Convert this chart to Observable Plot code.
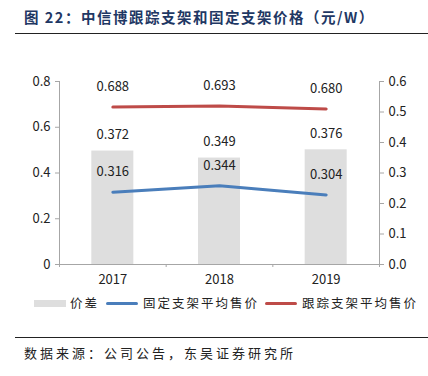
<!DOCTYPE html>
<html>
<head>
<meta charset="utf-8">
<script src="https://cdn.jsdelivr.net/npm/d3@7"></script>
<script src="https://cdn.jsdelivr.net/npm/@observablehq/plot@0.6"></script>
<style>
  body { margin: 0; background: #fff; font-family: "Noto Sans CJK SC", sans-serif; }
  #wrap { position: relative; width: 428px; height: 376px; overflow: hidden; }
  #title { position: absolute; left: 24px; top: 6px; font-size: 14.5px; font-weight: bold; color: #1f3864; white-space: nowrap; letter-spacing: 1.5px; }
  #rule1 { position: absolute; left: 15px; top: 33px; width: 413px; height: 0; border-top: 1.5px solid #222; }
  #chart { position: absolute; left: 0; top: 40px; }
  #legend { position: absolute; left: 0; top: 293px; width: 428px; height: 20px; font-size: 12.5px; color: #222; }
  .lg { position: absolute; top: 0; line-height: 20px; white-space: nowrap; letter-spacing: 2px; }
  .sw { position: absolute; }
  #rule2 { position: absolute; left: 15px; top: 337px; width: 413px; height: 0; border-top: 1.5px solid #222; }
  #source { position: absolute; left: 24px; top: 343px; font-size: 13px; color: #222; white-space: nowrap; letter-spacing: 3px; }
</style>
</head>
<body>
<div id="wrap">
  <div id="title">图 22：中信博跟踪支架和固定支架价格（元/W）</div>
  <div id="rule1"></div>
  <div id="chart"></div>
  <div id="legend"></div>
  <div id="rule2"></div>
  <div id="source">数据来源：公司公告，东吴证券研究所</div>
</div>
<script>
const years = [2017, 2018, 2019];
const priceDiff = [0.372, 0.349, 0.376];      // 价差 (right axis)
const fixedPrice = [0.316, 0.344, 0.304];     // 固定支架平均售价 (left axis)
const trackerPrice = [0.688, 0.693, 0.680];   // 跟踪支架平均售价 (left axis)
const leftTicks = [0, 0.2, 0.4, 0.6, 0.8];
const rightTicks = [0, 0.1, 0.2, 0.3, 0.4, 0.5, 0.6];
const seriesNames = ["价差", "固定支架平均售价", "跟踪支架平均售价"];
const colors = { gray: "#dedede", blue: "#4a7ebb", red: "#be4b48" };

const rightMax = 0.6, leftMax = 0.8, k = leftMax / rightMax;
const rows = years.map((y, i) => ({ year: y, diff: priceDiff[i], fixed: fixedPrice[i], tracker: trackerPrice[i] }));
const bandEdges = [2016.5, 2017.5, 2018.5, 2019.5];
const fmt3 = d => d.toFixed(3);
const font = "Noto Sans CJK SC";

const plot = Plot.plot({
  width: 428,
  height: 252,
  marginLeft: 59,
  marginRight: 49,
  marginTop: 41,
  marginBottom: 28,
  style: { fontFamily: font, fontSize: "13px", color: "#222", background: "transparent" },
  x: { domain: [2016.5, 2019.5], label: null },
  y: { domain: [0, leftMax], label: null },
  marks: [
    Plot.rectY(rows, { x1: d => d.year - 0.197, x2: d => d.year + 0.197, y: d => d.diff * k, fill: colors.gray }),
    Plot.line(rows, { x: "year", y: "fixed", stroke: colors.blue, strokeWidth: 3 }),
    Plot.line(rows, { x: "year", y: "tracker", stroke: colors.red, strokeWidth: 3 }),
    Plot.text(rows, { x: "year", y: d => d.diff * k, text: d => fmt3(d.diff), dy: -16, fontSize: 13, fill: "#222" }),
    Plot.text(rows, { x: "year", y: "fixed", text: d => fmt3(d.fixed), dy: -20, fontSize: 13, fill: "#222" }),
    Plot.text(rows, { x: "year", y: "tracker", text: d => fmt3(d.tracker), dy: -20, fontSize: 13, fill: "#222" }),
    // left axis
    Plot.ruleX([2016.5], { stroke: "#a6a6a6" }),
    Plot.axisY(leftTicks, { anchor: "left", label: null, tickSize: 4, tickPadding: 5, stroke: "#a6a6a6", tickFormat: d => d === 0 ? "0" : d.toFixed(1), fontSize: 13, fill: "#222" }),
    // right axis
    Plot.ruleX([2019.5], { stroke: "#a6a6a6" }),
    Plot.axisY(rightTicks, { y: d => d * k, anchor: "right", label: null, tickSize: 4, tickPadding: 5, stroke: "#a6a6a6", tickFormat: d => d.toFixed(1), fontSize: 13, fill: "#222" }),
    // bottom axis
    Plot.ruleY([0], { stroke: "#a6a6a6" }),
    Plot.axisX(bandEdges, { label: null, tickSize: 3, stroke: "#a6a6a6", tickFormat: () => "" }),
    Plot.axisX(years, { label: null, tickSize: 0, tickPadding: 10, tickFormat: d => String(d), fontSize: 13, fill: "#222" })
  ]
});
document.getElementById("chart").appendChild(plot);

// legend
const legend = document.getElementById("legend");
const items = [
  { name: seriesNames[0], type: "bar", color: colors.gray, sx: 34, tx: 70 },
  { name: seriesNames[1], type: "line", color: colors.blue, sx: 106, tx: 143 },
  { name: seriesNames[2], type: "line", color: colors.red, sx: 265, tx: 302 }
];
items.forEach(it => {
  const sw = document.createElement("div");
  sw.className = "sw";
  sw.style.left = it.sx + "px";
  sw.style.width = "32px";
  if (it.type === "bar") { sw.style.top = "7px"; sw.style.height = "7px"; }
  else { sw.style.top = "8.5px"; sw.style.height = "3.5px"; sw.style.borderRadius = "2px"; }
  sw.style.background = it.color;
  legend.appendChild(sw);
  const t = document.createElement("div");
  t.className = "lg";
  t.style.left = it.tx + "px";
  t.textContent = it.name;
  legend.appendChild(t);
});
</script>
</body>
</html>
